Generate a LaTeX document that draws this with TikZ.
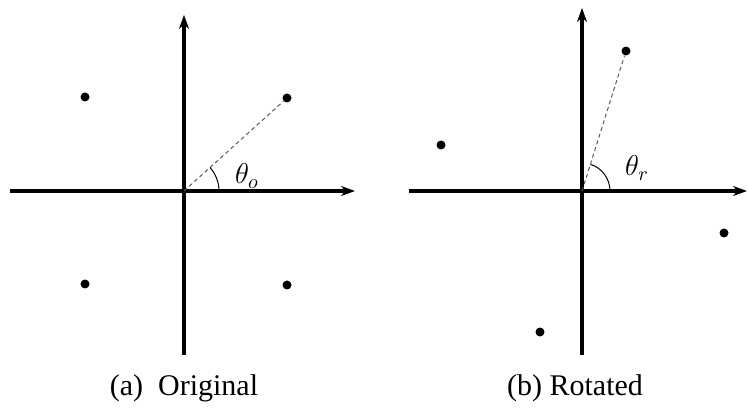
\documentclass[tikz,border=0pt]{standalone}
\usepackage{amsmath}
\usepackage{fontspec}
\setmainfont{Liberation Serif}
\usetikzlibrary{arrows.meta}

\tikzset{
  axis/.style={line width=1.6pt,-{Stealth[length=7pt,width=5pt]}},
  pt/.style={circle,fill=black,inner sep=0pt,minimum size=4.5pt},
  ray/.style={dashed,gray!70!black,line width=0.5pt,dash pattern=on 2pt off 1.5pt},
  caption/.style={font=\fontsize{15}{17}\selectfont}
}

\begin{document}
\begin{tikzpicture}[x=0.5pt,y=0.5pt]
        \useasboundingbox (0,0) rectangle (748,412);

        % Original
        \coordinate (o1) at (184,221);
        \draw[axis] (10,221) -- (355,221);
        \draw[axis] (184,57) -- (184,397);
        \node[pt] (a1) at (85,315) {};
        \node[pt] (a2) at (287,314) {};
        \node[pt] (a3) at (85,128) {};
        \node[pt] (a4) at (287,127) {};
        \draw[ray] (o1) -- (a2);
        \draw[line width=0.5pt] ([shift={(0:35)}]o1) arc (0:42:35);
        \node (thetao) at (247,236) {\Large$\theta_o$};
        \node[caption] (capa) at (184,24) {(a)~~Original};

        % Rotated
        \coordinate (o2) at (582,221);
        \draw[axis] (409,221) -- (747,221);
        \draw[axis] (582,57) -- (582,404);
        \node[pt] (b1) at (441,267) {};
        \node[pt] (b2) at (626,361) {};
        \node[pt] (b3) at (724,179) {};
        \node[pt] (b4) at (540,80) {};
        \draw[ray] (o2) -- (b2);
        \draw[line width=0.5pt] ([shift={(0:28)}]o2) arc (0:72:28);
        \node (thetar) at (637,244) {\Large$\theta_r$};
        \node[caption] (capb) at (575,24) {(b) Rotated};
\end{tikzpicture}
\end{document}
